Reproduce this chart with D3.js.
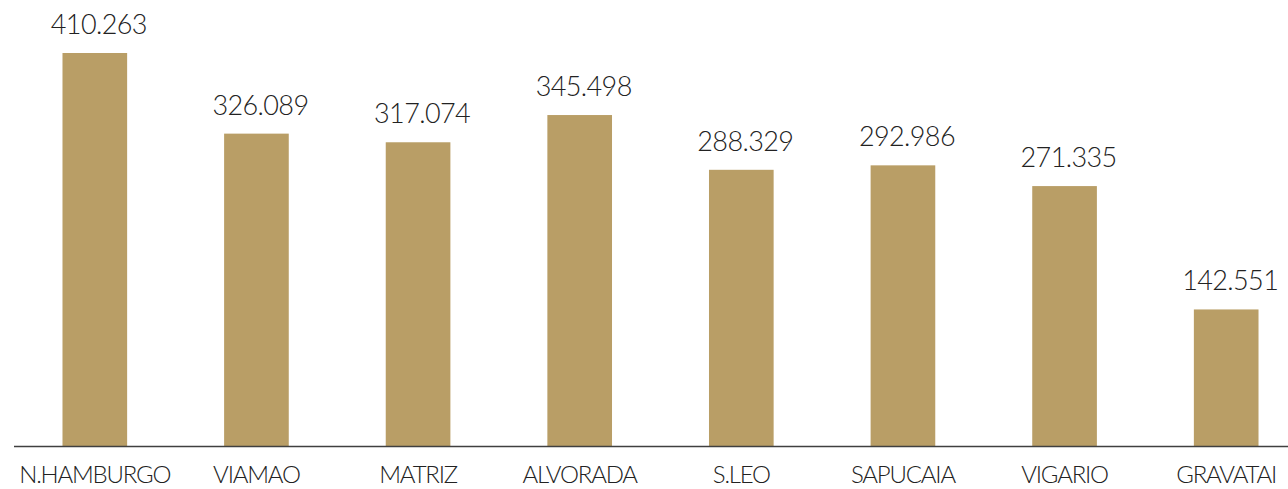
<!DOCTYPE html>
<html>
<head>
<meta charset="utf-8">
<script src="https://cdn.jsdelivr.net/npm/d3@7"></script>
<style>
  body { margin: 0; background: #fff; }
  text { font-family: 'Lato', 'Open Sans', sans-serif; font-weight: 300; fill: #222; }
</style>
</head>
<body>
<div id="chart"></div>
<script>
var categories = ['N.HAMBURGO', 'VIAMAO', 'MATRIZ', 'ALVORADA', 'S.LEO', 'SAPUCAIA', 'VIGARIO', 'GRAVATAI'];
var values = [410.263, 326.089, 317.074, 345.498, 288.329, 292.986, 271.335, 142.551];
var valueLabels = ['410.263', '326.089', '317.074', '345.498', '288.329', '292.986', '271.335', '142.551'];

var width = 1288,
    height = 489,
    baseY = 446,
    barColor = '#B99E66';

var svg = d3.select('#chart').append('svg')
    .attr('width', width)
    .attr('height', height);

var x = d3.scaleBand()
    .domain(categories)
    .range([14, 1307])
    .paddingInner(0.6)
    .paddingOuter(0.3);

// 410.263 -> top at y=53
var y = d3.scaleLinear()
    .domain([0, 410.263])
    .range([baseY, 53]);

svg.append('g')
    .selectAll('rect')
    .data(values)
    .enter().append('rect')
    .attr('x', function(d, i) { return x(categories[i]); })
    .attr('y', function(d) { return y(d); })
    .attr('width', x.bandwidth())
    .attr('height', function(d) { return baseY - y(d); })
    .attr('fill', barColor);

// value labels
svg.append('g')
    .selectAll('text')
    .data(values)
    .enter().append('text')
    .attr('x', function(d, i) { return x(categories[i]) + x.bandwidth() / 2 + 4; })
    .attr('y', function(d) { return y(d) - 19; })
    .attr('text-anchor', 'middle')
    .attr('font-size', '27px')
    .attr('letter-spacing', '-0.6px')
    .text(function(d, i) { return valueLabels[i]; });

// axis line
svg.append('line')
    .attr('x1', 14)
    .attr('x2', width)
    .attr('y1', baseY + 0.5)
    .attr('y2', baseY + 0.5)
    .attr('stroke', '#404040')
    .attr('stroke-width', 1.5);

// category labels (kept just inside the bottom edge)
svg.append('g')
    .selectAll('text')
    .data(categories)
    .enter().append('text')
    .attr('x', function(d) { return x(d) + x.bandwidth() / 2; })
    .attr('y', 483)
    .attr('text-anchor', 'middle')
    .attr('font-size', '24px')
    .attr('letter-spacing', '-1.2px')
    .text(function(d) { return d; });
</script>
</body>
</html>
